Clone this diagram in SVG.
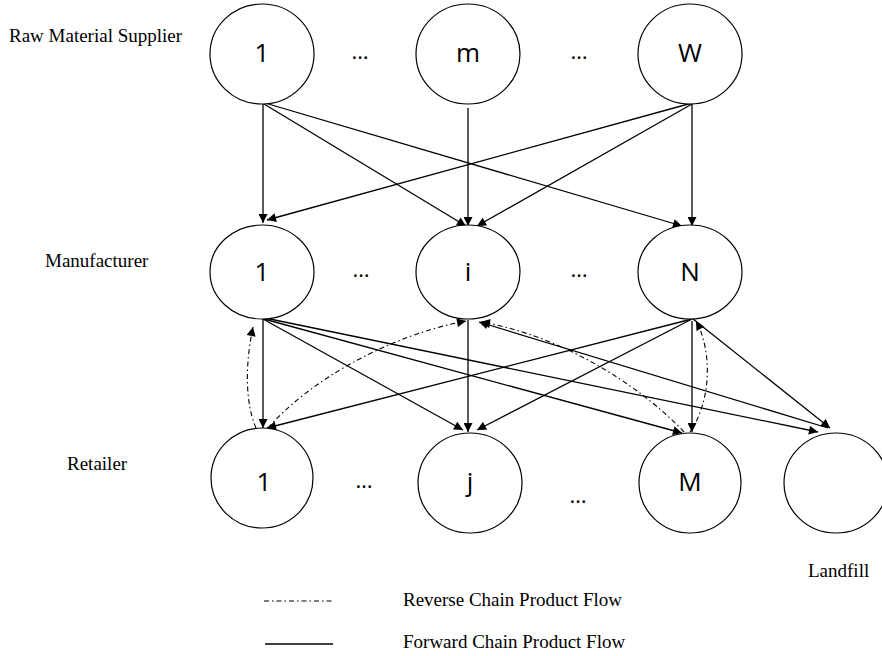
<svg xmlns="http://www.w3.org/2000/svg" width="882" height="656" viewBox="0 0 882 656">
  <style>
    .node { fill: #fff; stroke: #000; stroke-width: 1.2; }
    .num { font-family: "Open Sans", "Liberation Sans", sans-serif; font-size: 26px; fill: #000; text-anchor: middle; }
    .dots { font-family: "Open Sans", "Liberation Sans", sans-serif; font-size: 22px; fill: #000; text-anchor: middle; }
    .lbl { font-family: "Liberation Serif", "Times New Roman", serif; font-size: 19px; fill: #000; }
    .fwd { fill: none; stroke: #000; stroke-width: 1.3; marker-end: url(#arrow); }
    .rev { fill: none; stroke: #000; stroke-width: 1.1; stroke-dasharray: 5 3 1.5 3; marker-end: url(#arrow); }
    .legend-fwd { stroke: #000; stroke-width: 1.3; }
    .legend-rev { stroke: #000; stroke-width: 1.1; stroke-dasharray: 5 3 1.5 3; }
  </style>
  <defs>
    <marker id="arrow" viewBox="0 0 10 10" refX="10" refY="5" markerWidth="11" markerHeight="9" markerUnits="userSpaceOnUse" orient="auto">
      <path d="M0,0 L10,5 L0,10 z" fill="#000"/>
    </marker>
  </defs>

  <rect width="882" height="656" fill="#fff"/>

  <!-- tier labels -->
  <text class="lbl" x="9" y="42">Raw Material Supplier</text>
  <text class="lbl" x="45" y="267">Manufacturer</text>
  <text class="lbl" x="67" y="470">Retailer</text>
  <text class="lbl" x="808" y="577">Landfill</text>

  <!-- connectors -->
  <g id="connectors">
    <!-- suppliers to manufacturers -->
    <path class="fwd" d="M263,104 L263,223"/>
    <path class="fwd" d="M264,104 L466,226"/>
    <path class="fwd" d="M265,103 L682,226"/>
    <path class="fwd" d="M468,108 L468,226"/>
    <path class="fwd" d="M692,103 L267,220"/>
    <path class="fwd" d="M692,104 L477,226"/>
    <path class="fwd" d="M692,104 L692,226"/>
    <!-- manufacturers to retailers and landfill -->
    <path class="fwd" d="M263,319 L263,428"/>
    <path class="fwd" d="M263,319 L463,430"/>
    <path class="fwd" d="M264,319 L682,433"/>
    <path class="fwd" d="M265,318 L818,432"/>
    <path class="fwd" d="M468,320 L468,432"/>
    <path class="fwd" d="M692,319 L267,428"/>
    <path class="fwd" d="M692,319 L477,430"/>
    <path class="fwd" d="M692,321 L692,432"/>
    <path class="fwd" d="M693,319 L830,428"/>
    <path class="fwd" d="M828,428 L479,322"/>
    <!-- reverse flows -->
    <path class="rev" d="M256,428 C244,400 246,360 253,327"/>
    <path class="rev" d="M268,428 C310,380 390,335 466,321"/>
    <path class="rev" d="M684,432 C640,385 560,335 481,322"/>
    <path class="rev" d="M690,432 C712,400 712,350 696,321"/>
  </g>

  <!-- raw material suppliers -->
  <g id="supplier-1"><ellipse class="node" cx="262" cy="54" rx="52" ry="50"/><text class="num" x="262" y="62">1</text></g>
  <g id="supplier-m"><ellipse class="node" cx="468" cy="54" rx="52" ry="50"/><text class="num" x="468" y="62">m</text></g>
  <g id="supplier-W"><ellipse class="node" cx="690" cy="54" rx="52" ry="50"/><text class="num" x="690" y="62">W</text></g>
  <text class="dots" x="360" y="59">…</text>
  <text class="dots" x="579" y="59">…</text>

  <!-- manufacturers -->
  <g id="manufacturer-1"><ellipse class="node" cx="262" cy="272" rx="52" ry="47"/><text class="num" x="262" y="281">1</text></g>
  <g id="manufacturer-i"><ellipse class="node" cx="468" cy="272" rx="52" ry="47"/><text class="num" x="468" y="281">i</text></g>
  <g id="manufacturer-N"><ellipse class="node" cx="690" cy="272" rx="52" ry="47"/><text class="num" x="690" y="281">N</text></g>
  <text class="dots" x="361" y="277">…</text>
  <text class="dots" x="579" y="277">…</text>

  <!-- retailers -->
  <g id="retailer-1"><ellipse class="node" cx="262" cy="478" rx="51" ry="50"/><text class="num" x="264" y="491">1</text></g>
  <g id="retailer-j"><ellipse class="node" cx="470" cy="483" rx="52" ry="50"/><text class="num" x="470" y="491">j</text></g>
  <g id="retailer-M"><ellipse class="node" cx="690" cy="483" rx="51" ry="50"/><text class="num" x="690" y="491">M</text></g>
  <text class="dots" x="364" y="488">…</text>
  <text class="dots" x="578" y="503">…</text>

  <!-- landfill -->
  <g id="landfill"><ellipse class="node" cx="836" cy="483" rx="52" ry="50"/></g>

  <!-- legend -->
  <g id="legend">
    <line class="legend-rev" x1="264" y1="601" x2="333" y2="601"/>
    <text class="lbl" x="403" y="606">Reverse Chain Product Flow</text>
    <line class="legend-fwd" x1="265" y1="644" x2="333" y2="644"/>
    <text class="lbl" x="403" y="648">Forward Chain Product Flow</text>
  </g>
</svg>
